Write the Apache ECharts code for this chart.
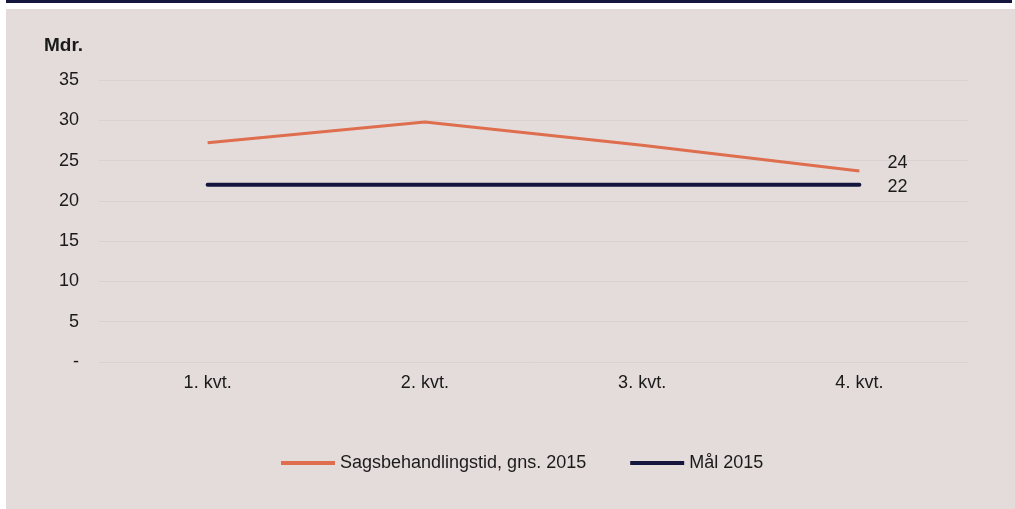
<!DOCTYPE html>
<html>
<head>
<meta charset="utf-8">
<script src="https://cdn.jsdelivr.net/npm/echarts@6/dist/echarts.min.js"></script>
<style>
  html, body { margin: 0; padding: 0; background: #ffffff; }
  #topline { position: absolute; left: 6px; top: 0; width: 1006px; height: 3px; background: #14163d; }
  #chart { position: absolute; left: 6px; top: 9px; width: 1009px; height: 500px; background: #e3dcdb; }
</style>
</head>
<body>
<div id="topline"></div>
<div id="chart"></div>
<script>
// data
var categories = ['1. kvt.', '2. kvt.', '3. kvt.', '4. kvt.'];
var sagsbehandling = [27.2, 29.8, 26.9, 23.7];
var maal = [22, 22, 22, 22];
var seriesNames = ['Sagsbehandlingstid, gns. 2015', 'Mål 2015'];
var endLabels = ['24', '22'];

var fontFam = 'Arial, "Liberation Sans", sans-serif';
var txtColor = '#1a1a1a';

var chart = echarts.init(document.getElementById('chart'));
chart.setOption({
  animation: false,
  backgroundColor: '#e3dcdb',
  textStyle: { fontFamily: fontFam },
  title: {
    text: 'Mdr.', left: 33, top: 22,
    textStyle: { fontSize: 19, fontWeight: 'bold', color: txtColor, fontFamily: fontFam }
  },
  grid: { left: 93, right: 47, top: 71, bottom: 147 },
  legend: {
    left: 270, top: 440,
    itemWidth: 54, itemHeight: 4, itemGap: 44,
    textStyle: { fontSize: 18, color: txtColor, fontFamily: fontFam },
    data: [
      { name: seriesNames[0], icon: 'rect', itemStyle: { color: '#de6e4e' } },
      { name: seriesNames[1], icon: 'rect', itemStyle: { color: '#14163d' } }
    ]
  },
  xAxis: {
    type: 'category', data: categories, boundaryGap: true,
    axisLine: { show: false }, axisTick: { show: false },
    axisLabel: { color: txtColor, fontSize: 18, margin: 12 }
  },
  yAxis: {
    type: 'value', min: 0, max: 35, interval: 5,
    axisLine: { show: false }, axisTick: { show: false },
    axisLabel: {
      color: txtColor, fontSize: 18, margin: 20,
      formatter: function (v) { return v === 0 ? '-' : v; }
    },
    splitLine: { lineStyle: { color: '#d8d3d2', width: 1 } }
  },
  series: [
    {
      name: seriesNames[0], type: 'line', symbol: 'none',
      lineStyle: { color: '#de6e4e', width: 3 },
      itemStyle: { color: '#de6e4e' },
      endLabel: {
        show: true, distance: 28, formatter: endLabels[0], offset: [0, -8],
        color: txtColor, fontSize: 18, fontFamily: fontFam
      },
      data: sagsbehandling
    },
    {
      name: seriesNames[1], type: 'line', symbol: 'none',
      lineStyle: { color: '#14163d', width: 4, cap: 'round' },
      itemStyle: { color: '#14163d' },
      endLabel: {
        show: true, distance: 28, formatter: endLabels[1], offset: [0, 2],
        color: txtColor, fontSize: 18, fontFamily: fontFam
      },
      data: maal
    }
  ]
});
</script>
</body>
</html>
